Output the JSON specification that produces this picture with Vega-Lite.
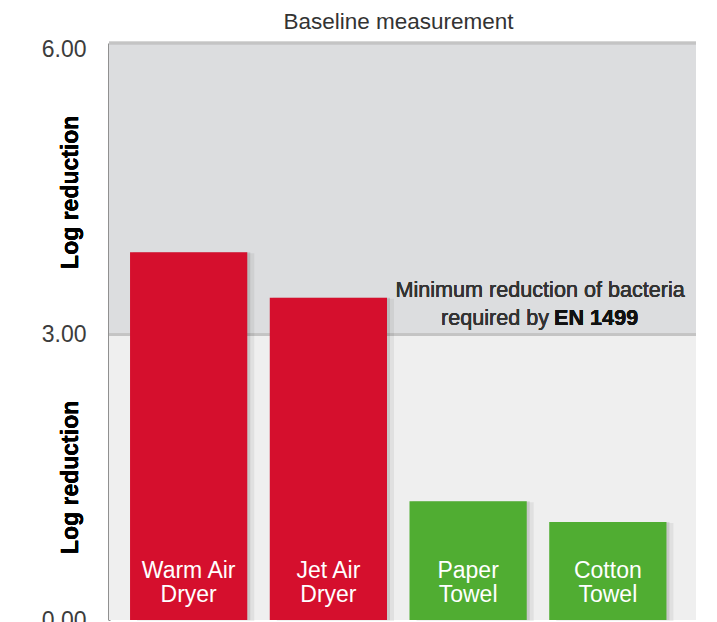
{
  "$schema": "https://vega.github.io/schema/vega-lite/v6.json",
  "width": 587,
  "height": 577,
  "autosize": "none",
  "padding": {"left": 109, "top": 43, "right": 21, "bottom": 2},
  "background": "white",
  "config": {"view": {"stroke": null}, "font": "Liberation Sans"},
  "title": {"text": "Baseline measurement", "fontSize": 22.5, "fontWeight": "normal", "color": "#333333", "offset": 5, "anchor": "middle", "dx": -4},
  "data": {"values": [
    {"product": "Warm Air Dryer", "label": "Warm Air\nDryer", "value": 3.87, "group": "dryer"},
    {"product": "Jet Air Dryer", "label": "Jet Air\nDryer", "value": 3.39, "group": "dryer"},
    {"product": "Paper Towel", "label": "Paper\nTowel", "value": 1.25, "group": "towel"},
    {"product": "Cotton Towel", "label": "Cotton\nTowel", "value": 1.03, "group": "towel"}
  ]},
  "layer": [
    {
      "mark": {"type": "rect", "color": "#efefef"},
      "encoding": {"y": {"datum": 0, "type": "quantitative", "scale": {"domain": [0, 6.07], "nice": false, "zero": true}, "axis": {"title": null, "values": [0, 3, 6], "format": ".2f", "ticks": false, "grid": false, "domainColor": "#222222", "domainWidth": 2, "labelPadding": 23, "labelFontSize": 23, "labelColor": "#3c3c3c", "labelFont": "Liberation Sans"}}, "y2": {"datum": 3}}
    },
    {
      "mark": {"type": "rect", "color": "#dcdddf"},
      "encoding": {"y": {"datum": 3, "type": "quantitative"}, "y2": {"datum": 6.07}}
    },
    {
      "mark": {"type": "rule", "color": "#c4c4c4", "strokeWidth": 2.5},
      "encoding": {"y": {"datum": 3, "type": "quantitative"}}
    },
    {
      "mark": {"type": "rule", "color": "#c4c4c4", "strokeWidth": 2.5},
      "encoding": {"y": {"datum": 6.07, "type": "quantitative"}}
    },
    {
      "mark": {"type": "bar", "color": "#000000", "opacity": 0.06, "xOffset": 7, "yOffset": 1},
      "encoding": {
        "x": {"field": "product", "type": "nominal", "sort": null, "scale": {"paddingInner": 0.161, "paddingOuter": 0.181, "align": 0.416}, "axis": null},
        "y": {"field": "value", "type": "quantitative"}
      }
    },
    {
      "mark": {"type": "bar", "color": "#000000", "opacity": 0.1, "xOffset": 3, "yOffset": 0},
      "encoding": {
        "x": {"field": "product", "type": "nominal", "sort": null},
        "y": {"field": "value", "type": "quantitative"}
      }
    },
    {
      "mark": {"type": "bar"},
      "encoding": {
        "x": {"field": "product", "type": "nominal", "sort": null},
        "y": {"field": "value", "type": "quantitative"},
        "color": {"field": "group", "type": "nominal", "scale": {"domain": ["dryer", "towel"], "range": ["#d50f2d", "#50ad32"]}, "legend": null}
      }
    },
    {
      "mark": {"type": "text", "color": "white", "fontSize": 23, "lineBreak": "\n", "lineHeight": 24, "baseline": "alphabetic", "dy": -42},
      "encoding": {
        "x": {"field": "product", "type": "nominal", "sort": null},
        "y": {"datum": 0, "type": "quantitative"},
        "text": {"field": "label"}
      }
    },
    {
      "mark": {"type": "text", "color": "#333333", "fontSize": 21.6, "align": "center", "baseline": "alphabetic", "dx": 72, "dy": -38},
      "encoding": {"x": {"datum": "Paper Towel"}, "y": {"datum": 3, "type": "quantitative"}, "text": {"value": "Minimum reduction of bacteria"}}
    },
    {
      "mark": {"type": "text", "color": "#333333", "fontSize": 21.6, "align": "right", "baseline": "alphabetic", "dx": 81, "dy": -10},
      "encoding": {"x": {"datum": "Paper Towel"}, "y": {"datum": 3, "type": "quantitative"}, "text": {"value": "required by"}}
    },
    {
      "mark": {"type": "text", "color": "#111111", "fontSize": 21.6, "fontWeight": "bold", "align": "left", "baseline": "alphabetic", "dx": 86, "dy": -10},
      "encoding": {"x": {"datum": "Paper Towel"}, "y": {"datum": 3, "type": "quantitative"}, "text": {"value": "EN 1499"}}
    },
    {
      "mark": {"type": "text", "color": "#000000", "fontSize": 23, "fontWeight": "bold", "angle": 270, "align": "center", "baseline": "middle", "dy": -118},
      "encoding": {"x": {"datum": "Warm Air Dryer"}, "y": {"datum": 4.5, "type": "quantitative"}, "text": {"value": "Log reduction"}}
    },
    {
      "mark": {"type": "text", "color": "#000000", "fontSize": 23, "fontWeight": "bold", "angle": 270, "align": "center", "baseline": "middle", "dy": -118},
      "encoding": {"x": {"datum": "Warm Air Dryer"}, "y": {"datum": 1.5, "type": "quantitative"}, "text": {"value": "Log reduction"}}
    }
  ]
}
